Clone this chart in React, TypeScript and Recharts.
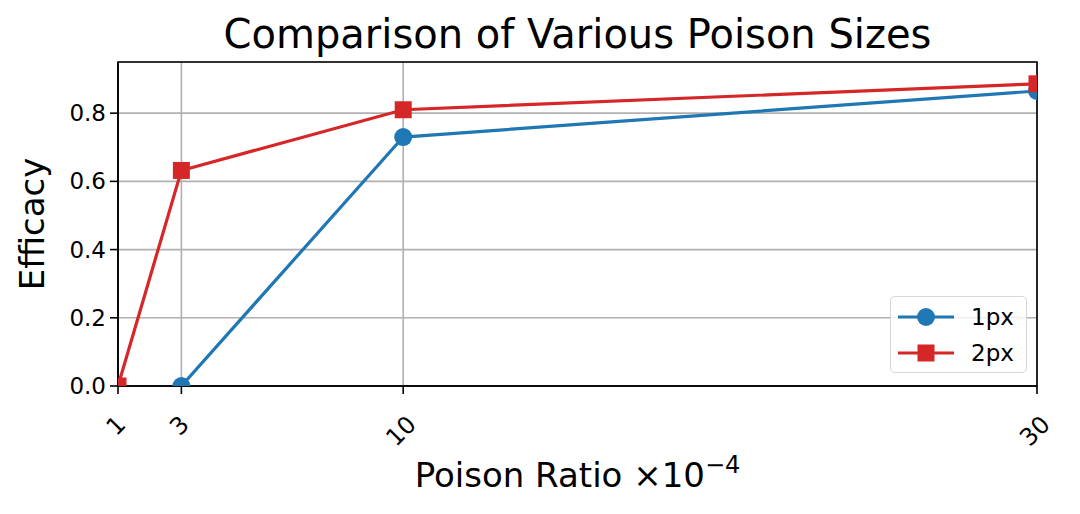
import React from 'react';
import {
  LineChart, Line, XAxis, YAxis, CartesianGrid, ReferenceArea,
} from 'recharts';

// poison ratio (x 10^-4) and efficacy per patch size
const ratios = [1, 3, 10, 30];
const efficacy1px: (number | null)[] = [null, 0, 0.73, 0.865];
const efficacy2px: (number | null)[] = [0, 0.632, 0.81, 0.886];
const yTicks = [0, 0.2, 0.4, 0.6, 0.8];
const seriesNames = ['1px', '2px'];

const BLUE = '#1f77b4';
const RED = '#d62728';
const FONT = '"DejaVu Sans", Verdana, sans-serif';

const data = ratios.map((r, i) => ({ ratio: r, px1: efficacy1px[i], px2: efficacy2px[i] }));

const SquareDot = (props: any) => {
  const { cx, cy } = props;
  if (cx == null || cy == null) return null;
  return <rect x={cx - 8.5} y={cy - 8.5} width={17} height={17} fill={RED} />;
};

// rotated labels hang from the top like matplotlib's rotation=45
const XTick = (props: any) => {
  const { x, y, payload } = props;
  const fs = 24;
  const len = String(payload.value).length;
  const cx = x - 2;
  const cy = y + 17.6 + ((len * 0.636 + 0.78) * 0.707 * fs) / 2;
  return (
    <text
      x={cx}
      y={cy}
      transform={`rotate(-45 ${cx} ${cy})`}
      textAnchor="middle"
      dominantBaseline="central"
      fontSize={fs}
      fontFamily={FONT}
      fill="#000"
    >
      {payload.value}
    </text>
  );
};

const YTick = (props: any) => {
  const { x, y, payload } = props;
  return (
    <text x={x - 2} y={y} textAnchor="end" dominantBaseline="central" fontSize={23} fontFamily={FONT} fill="#000">
      {Number(payload.value).toFixed(1)}
    </text>
  );
};

export default function App() {
  return (
    <div style={{ position: 'fixed', left: 0, top: 0, width: 1080, height: 514, background: '#fff' }}>
      <svg width={1080} height={60} style={{ position: 'absolute', left: 0, top: 0 }}>
        <text x={577.5} y={48} textAnchor="middle" fontSize={40} fontFamily={FONT} fill="#000">
          Comparison of Various Poison Sizes
        </text>
      </svg>
      <LineChart width={1080} height={514} data={data} margin={{ top: 62, right: 43, left: 0, bottom: 0 }}>
        <CartesianGrid stroke="#b0b0b0" strokeWidth={1.6} />
        <XAxis
          dataKey="ratio"
          type="number"
          domain={[1, 30]}
          ticks={ratios}
          allowDataOverflow
          height={128}
          tick={<XTick />}
          tickSize={8}
          axisLine={{ stroke: '#000', strokeWidth: 1.6 }}
          tickLine={{ stroke: '#000', strokeWidth: 1.6 }}
          label={({ viewBox }: any) => (
            <text
              x={viewBox.x + viewBox.width / 2}
              y={487}
              textAnchor="middle"
              fontSize={34}
              fontFamily={FONT}
              fill="#000"
            >
              Poison Ratio ×10
              <tspan dy={-14} fontSize={24}>−4</tspan>
            </text>
          )}
        />
        <YAxis
          type="number"
          domain={[0, 0.95]}
          ticks={yTicks}
          allowDataOverflow
          width={118}
          tick={<YTick />}
          tickSize={8}
          axisLine={{ stroke: '#000', strokeWidth: 1.6 }}
          tickLine={{ stroke: '#000', strokeWidth: 1.6 }}
          label={({ viewBox }: any) => {
            const bx = 44;
            const cy = viewBox.y + viewBox.height / 2;
            return (
              <text
                x={bx}
                y={cy}
                transform={`rotate(-90 ${bx} ${cy})`}
                textAnchor="middle"
                fontSize={34}
                fontFamily={FONT}
                fill="#000"
              >
                Efficacy
              </text>
            );
          }}
        />
        <ReferenceArea x1={1} x2={30} y1={0} y2={0.95} fill="none" stroke="#000" strokeWidth={1.6} ifOverflow="visible" />
        <Line
          dataKey="px1"
          name={seriesNames[0]}
          stroke={BLUE}
          strokeWidth={3.2}
          dot={{ r: 9, fill: BLUE, stroke: BLUE, strokeWidth: 0 }}
          isAnimationActive={false}
        />
        <Line
          dataKey="px2"
          name={seriesNames[1]}
          stroke={RED}
          strokeWidth={3.2}
          dot={<SquareDot />}
          isAnimationActive={false}
        />
      </LineChart>
      <div
        style={{
          position: 'absolute', left: 890, top: 296, width: 137, height: 77, boxSizing: 'border-box',
          border: '1.5px solid #d6d6d6', borderRadius: 5, background: 'rgba(255,255,255,0.8)',
          fontFamily: FONT, fontSize: 23, color: '#000',
        }}
      >
        {seriesNames.map((name, i) => (
          <div key={name} style={{ position: 'absolute', left: 7, top: 6 + i * 36, height: 28, display: 'flex', alignItems: 'center' }}>
            <svg width={56} height={28}>
              <line x1={0} y1={14} x2={56} y2={14} stroke={i === 0 ? BLUE : RED} strokeWidth={3.2} />
              {i === 0 ? (
                <circle cx={28} cy={14} r={9} fill={BLUE} />
              ) : (
                <rect x={19.5} y={5.5} width={17} height={17} fill={RED} />
              )}
            </svg>
            <span style={{ marginLeft: 17 }}>{name}</span>
          </div>
        ))}
      </div>
    </div>
  );
}
